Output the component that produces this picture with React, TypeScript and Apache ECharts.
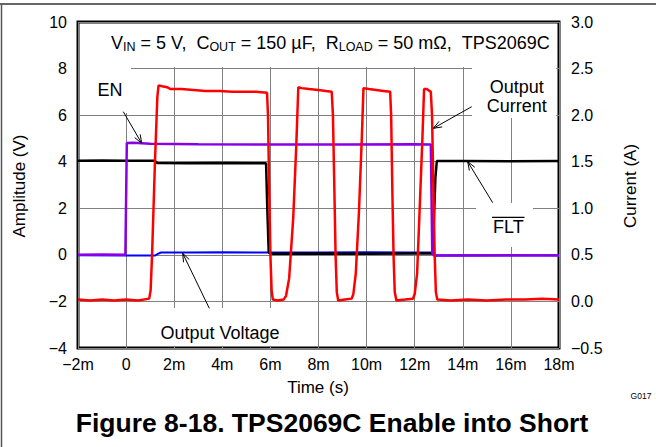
import React, { useEffect, useRef } from "react";
import * as echarts from "echarts";

// ---- data (time in ms) ----
const xTicksMin = -2;
const xTicksMax = 18;

const redTime = [
  -2, -1.5, -1, -0.5, 0, 0.5, 0.96,
  1.02, 1.08, 1.2, 1.3, 1.35, 1.5, 1.7, 1.85, 2.3, 2.8, 3.3, 3.9, 4.4, 4.9, 5.4, 5.86,
  5.9, 5.95, 6.0, 6.05, 6.1, 6.3, 6.55,
  6.65, 6.78, 6.95, 7.08, 7.16, 7.3, 7.6, 8.0, 8.3, 8.55,
  8.6, 8.66, 8.71, 8.76, 8.82, 9.1, 9.38,
  9.45, 9.55, 9.68, 9.8, 9.87, 10.1, 10.4, 10.7, 10.98,
  11.02, 11.07, 11.12, 11.17, 11.24, 11.6, 11.93,
  12.0, 12.1, 12.2, 12.32, 12.39, 12.5, 12.67,
  12.72, 12.78, 12.83, 12.88, 12.94, 13.5, 14.2, 15, 15.8, 16.6, 17.3, 18,
];
const redCurrent = [
  0.02, 0.01, 0.02, 0.01, 0.02, 0.01, 0.03,
  0.12, 0.5, 1.5, 2.2, 2.32, 2.31, 2.3, 2.28, 2.28, 2.27, 2.26, 2.26, 2.25, 2.25, 2.25, 2.24,
  2.0, 1.2, 0.5, 0.12, 0.02, 0.01, 0.02,
  0.06, 0.25, 0.9, 1.7, 2.3, 2.29, 2.28, 2.27, 2.26, 2.25,
  2.0, 1.2, 0.5, 0.1, 0.01, 0.02, 0.03,
  0.08, 0.3, 0.95, 1.75, 2.29, 2.28, 2.27, 2.26, 2.25,
  2.0, 1.2, 0.5, 0.1, 0.01, 0.02, 0.03,
  0.08, 0.3, 0.95, 1.75, 2.28, 2.28, 2.25,
  2.0, 1.2, 0.5, 0.1, 0.02, 0.01, 0.02, 0.01, 0.02, 0.02, 0.03, 0.02,
];

const fltTime = [-2, -1, 0, 1.2, 1.3, 2.5, 4, 5.82, 5.87, 5.93, 6.1, 8, 10, 12, 12.74, 12.8, 12.86, 12.92, 14, 16, 18];
const fltVolt = [4.04, 4.05, 4.04, 4.04, 3.94, 3.93, 3.94, 3.93, 2.0, 0.1, 0.05, 0.06, 0.05, 0.06, 0.06, 1.5, 3.3, 4.03, 4.03, 4.02, 4.03];

const enTime = [-2, -1, -0.03, 0.03, 0.3, 1, 3, 6, 9, 12, 12.67, 12.73, 12.8, 14, 16, 18];
const enVolt = [0, 0.01, 0, 4.8, 4.81, 4.77, 4.75, 4.74, 4.74, 4.75, 4.74, 0.1, -0.03, -0.03, -0.02, -0.03];

const voutTime = [-2, 0, 1.2, 1.32, 1.45, 2.5, 4, 6, 8, 10, 12, 12.7, 12.78, 12.86, 14, 16, 18];
const voutVolt = [-0.02, -0.03, -0.03, 0.04, 0.1, 0.1, 0.11, 0.1, 0.1, 0.11, 0.1, 0.1, 0.02, -0.03, -0.02, -0.03, -0.02];

const FONT = "'Liberation Sans', Arial, Helvetica, sans-serif";
const MINUS = "\u2212";

function zip(t: number[], v: number[]) {
  return t.map((x, i) => [x, v[i]]);
}

function arrow(x1: number, y1: number, x2: number, y2: number) {
  const a = Math.atan2(y2 - y1, x2 - x1);
  const L = 9;
  const w = 0.36;
  const p1 = [x2 - L * Math.cos(a - w), y2 - L * Math.sin(a - w)];
  const p2 = [x2 - L * Math.cos(a + w), y2 - L * Math.sin(a + w)];
  return [
    { type: "line", z: 10, shape: { x1, y1, x2, y2 }, style: { stroke: "#000", lineWidth: 1 } },
    { type: "polyline", z: 10, shape: { points: [p1, [x2, y2], p2] }, style: { stroke: "#000", lineWidth: 1, fill: null } },
  ];
}

function whiteBox(x: number, y: number, w: number, h: number) {
  return { type: "rect", z: 1, shape: { x, y, width: w, height: h }, style: { fill: "#fff" }, silent: true };
}

function label(text: string, x: number, y: number, size = 18, extra: any = {}) {
  return {
    type: "text",
    z: 10,
    x,
    y,
    style: { text, fontSize: size, fontFamily: FONT, fill: "#000", align: "center", verticalAlign: "middle", ...extra },
  };
}

export default function App() {
  const ref = useRef<HTMLDivElement>(null);
  useEffect(() => {
    if (!ref.current) return;
    const chart = echarts.init(ref.current, undefined, { renderer: "svg" });
    const fmtMinus = (s: string) => s.replace("-", MINUS);
    const option: any = {
      animation: false,
      backgroundColor: "#fff",
      grid: { left: 78, top: 22, width: 481, height: 326, show: true, borderColor: "#000", borderWidth: 3, backgroundColor: "transparent" },
      xAxis: {
        type: "value",
        min: xTicksMin,
        max: xTicksMax,
        interval: 2,
        axisLine: { show: false },
        axisTick: { show: false },
        splitLine: { show: true, lineStyle: { color: "#808080", width: 1 } },
        axisLabel: {
          fontSize: 16,
          fontFamily: FONT,
          color: "#000",
          margin: 8,
          formatter: (v: number) => (v === 0 ? "0" : fmtMinus(String(v)) + "m"),
        },
      },
      yAxis: [
        {
          type: "value",
          min: -4,
          max: 10,
          interval: 2,
          axisLine: { show: false },
          axisTick: { show: false },
          splitLine: { show: true, lineStyle: { color: "#808080", width: 1 } },
          axisLabel: { fontSize: 16, fontFamily: FONT, color: "#000", margin: 11, formatter: (v: number) => fmtMinus(String(v)) },
        },
        {
          type: "value",
          position: "right",
          min: -0.5,
          max: 3,
          interval: 0.5,
          axisLine: { show: false },
          axisTick: { show: false },
          splitLine: { show: false },
          axisLabel: { fontSize: 16, fontFamily: FONT, color: "#000", margin: 12, formatter: (v: number) => fmtMinus(v.toFixed(1)) },
        },
      ],
      series: [
        { name: "Output Voltage", type: "line", yAxisIndex: 0, data: zip(voutTime, voutVolt), symbol: "none", z: 2, lineStyle: { color: "#0000ff", width: 2 } },
        { name: "FLT", type: "line", yAxisIndex: 0, data: zip(fltTime, fltVolt), symbol: "none", z: 3, lineStyle: { color: "#000000", width: 2.5 } },
        { name: "EN", type: "line", yAxisIndex: 0, data: zip(enTime, enVolt), symbol: "none", z: 4, lineStyle: { color: "#8a00e6", width: 2.5 } },
        { name: "Output Current", type: "line", yAxisIndex: 1, data: zip(redTime, redCurrent), symbol: "none", z: 5, lineStyle: { color: "#ff0000", width: 2.5 } },
      ],
      graphic: [
        // outer figure border
        { type: "line", z: 10, shape: { x1: 0, y1: 4, x2: 656, y2: 4 }, style: { stroke: "#333", lineWidth: 1.5 } },
        { type: "line", z: 10, shape: { x1: 1.5, y1: 4, x2: 1.5, y2: 447 }, style: { stroke: "#555", lineWidth: 1.5 } },
        // gridline gaps behind labels
        whiteBox(80, 24, 477, 43),
        whiteBox(80, 66, 51, 47),
        whiteBox(472, 66, 84, 52),
        whiteBox(476, 203, 57, 44),
        whiteBox(128, 308, 188, 38),
        // condition text
        {
          type: "text",
          z: 10,
          x: 111,
          y: 43,
          style: {
            text: "{n|V}{s|IN}{n| = 5 V,  C}{s|OUT}{n| = 150 \u00b5F,  R}{s|LOAD}{n| = 50 m\u03a9,  TPS2069C}",
            fontFamily: FONT,
            verticalAlign: "middle",
            rich: {
              n: { fontSize: 18, fontFamily: FONT, fill: "#000", lineHeight: 20, verticalAlign: "middle" },
              s: { fontSize: 12.5, fontFamily: FONT, fill: "#000", lineHeight: 20, verticalAlign: "bottom" },
            },
          },
        },
        label("EN", 110, 90),
        ...arrow(123.3, 111.7, 141.7, 143.3),
        label("Output", 516.7, 86.5),
        label("Current", 516.7, 105.5),
        ...arrow(471.7, 106.7, 433.3, 128.3),
        label("FLT", 508.3, 227),
        { type: "line", z: 10, shape: { x1: 492, y1: 217.3, x2: 524.5, y2: 217.3 }, style: { stroke: "#000", lineWidth: 1.2 } },
        ...arrow(492.7, 202.7, 467.7, 161.7),
        label("Output Voltage", 220, 333),
        ...arrow(209.3, 308.3, 182.7, 253.3),
        // axis titles
        { type: "text", z: 10, x: 19, y: 186, rotation: Math.PI / 2, style: { text: "Amplitude (V)", fontSize: 17, fontFamily: FONT, fill: "#000", align: "center", verticalAlign: "middle" } },
        { type: "text", z: 10, x: 630, y: 186, rotation: Math.PI / 2, style: { text: "Current (A)", fontSize: 17, fontFamily: FONT, fill: "#000", align: "center", verticalAlign: "middle" } },
        label("Time (s)", 318, 387, 17),
        label("G017", 641, 396, 8.5),
        label("Figure 8-18. TPS2069C Enable into Short", 332, 423, 26.5, { fontWeight: "bold" }),
      ],
    };
    chart.setOption(option);
    return () => chart.dispose();
  }, []);
  return (
    <div
      ref={ref}
      style={{ position: "fixed", left: 0, top: 0, width: 656, height: 447, background: "#fff" }}
    />
  );
}
